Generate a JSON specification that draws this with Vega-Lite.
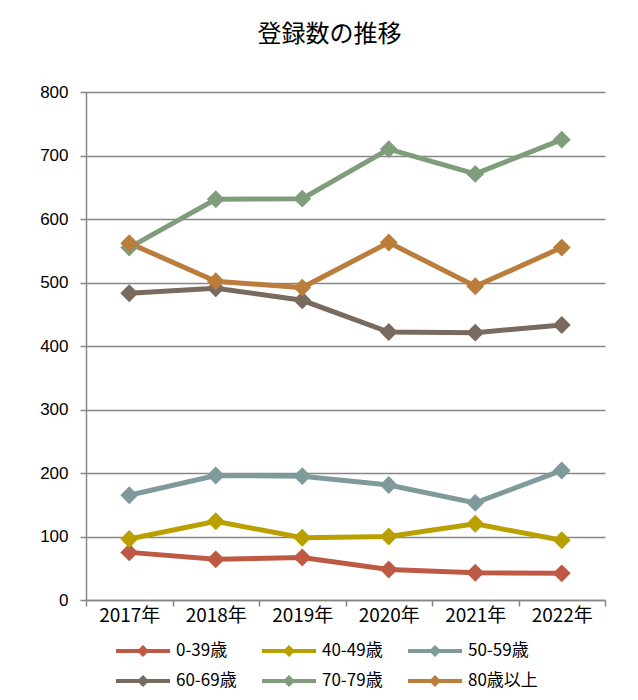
{
  "$schema": "https://vega.github.io/schema/vega-lite/v6.json",
  "width": 519,
  "height": 508,
  "autosize": {"type": "none"},
  "padding": {"left": 86, "top": 92, "right": 33, "bottom": 100},
  "background": "white",
  "title": {"text": "登録数の推移", "fontSize": 24, "font": "Noto Sans CJK JP", "fontWeight": "normal", "color": "#000000", "offset": 36, "dx": -16},
  "data": {"values": [
    {"year": "2017年", "group": "0-39歳", "value": 75},
    {"year": "2018年", "group": "0-39歳", "value": 64},
    {"year": "2019年", "group": "0-39歳", "value": 67},
    {"year": "2020年", "group": "0-39歳", "value": 48},
    {"year": "2021年", "group": "0-39歳", "value": 43},
    {"year": "2022年", "group": "0-39歳", "value": 42},
    {"year": "2017年", "group": "40-49歳", "value": 96},
    {"year": "2018年", "group": "40-49歳", "value": 124},
    {"year": "2019年", "group": "40-49歳", "value": 98},
    {"year": "2020年", "group": "40-49歳", "value": 100},
    {"year": "2021年", "group": "40-49歳", "value": 120},
    {"year": "2022年", "group": "40-49歳", "value": 94},
    {"year": "2017年", "group": "50-59歳", "value": 165},
    {"year": "2018年", "group": "50-59歳", "value": 196},
    {"year": "2019年", "group": "50-59歳", "value": 195},
    {"year": "2020年", "group": "50-59歳", "value": 181},
    {"year": "2021年", "group": "50-59歳", "value": 153},
    {"year": "2022年", "group": "50-59歳", "value": 204},
    {"year": "2017年", "group": "60-69歳", "value": 483},
    {"year": "2018年", "group": "60-69歳", "value": 491},
    {"year": "2019年", "group": "60-69歳", "value": 472},
    {"year": "2020年", "group": "60-69歳", "value": 422},
    {"year": "2021年", "group": "60-69歳", "value": 421},
    {"year": "2022年", "group": "60-69歳", "value": 433},
    {"year": "2017年", "group": "70-79歳", "value": 555},
    {"year": "2018年", "group": "70-79歳", "value": 631},
    {"year": "2019年", "group": "70-79歳", "value": 632},
    {"year": "2020年", "group": "70-79歳", "value": 710},
    {"year": "2021年", "group": "70-79歳", "value": 671},
    {"year": "2022年", "group": "70-79歳", "value": 725},
    {"year": "2017年", "group": "80歳以上", "value": 562},
    {"year": "2018年", "group": "80歳以上", "value": 502},
    {"year": "2019年", "group": "80歳以上", "value": 492},
    {"year": "2020年", "group": "80歳以上", "value": 563},
    {"year": "2021年", "group": "80歳以上", "value": 494},
    {"year": "2022年", "group": "80歳以上", "value": 555}
  ]},
  "encoding": {
    "x": {"field": "year", "type": "nominal", "sort": null, "scale": {"type": "band", "paddingInner": 0, "paddingOuter": 0},
      "axis": {"title": null, "labelAngle": 0, "labelFontSize": 19, "labelFont": "Noto Sans CJK JP", "labelColor": "#000000", "domainColor": "#868686", "domainWidth": 1.5, "tickColor": "#868686", "tickWidth": 1.5, "tickSize": 6, "tickBand": "extent", "labelPadding": 0, "grid": false}},
    "y": {"field": "value", "type": "quantitative", "scale": {"domain": [0, 800], "nice": false},
      "axis": {"title": null, "values": [0, 100, 200, 300, 400, 500, 600, 700, 800], "labelFontSize": 17, "labelFont": "Liberation Sans", "labelColor": "#000000", "domainColor": "#868686", "domainWidth": 1.5, "tickColor": "#868686", "tickWidth": 1.5, "tickSize": 6, "labelPadding": 12, "gridColor": "#868686", "gridWidth": 1.5}},
    "color": {"field": "group", "type": "nominal",
      "scale": {"domain": ["0-39歳", "40-49歳", "50-59歳", "60-69歳", "70-79歳", "80歳以上"], "range": ["#BE5A44", "#B9A000", "#7F9A9B", "#786A5F", "#7F9D7B", "#BB7D3C"]},
      "legend": {"title": null, "orient": "none", "legendX": 48, "legendY": 550, "direction": "horizontal", "columns": 3,
        "symbolType": "M-3,-0.22L3,-0.22L3,0.22L-3,0.22Z M0,-0.67L0.67,0L0,0.67L-0.67,0Z",
        "symbolSize": 324, "symbolStrokeWidth": 0, "labelFontSize": 17, "labelFont": "Noto Sans CJK JP", "labelColor": "#000000", "labelOffset": 24, "columnPadding": 16, "rowPadding": 13, "gridAlign": "all",
        "encode": {"symbols": {"update": {"fill": {"scale": "color", "field": "value"}, "opacity": {"value": 1}}}}}
    }
  },
  "layer": [
    {"mark": {"type": "line", "strokeWidth": 5}},
    {"mark": {"type": "point", "shape": "diamond", "filled": true, "size": 320, "opacity": 1}}
  ],
  "config": {"view": {"stroke": null}}
}
